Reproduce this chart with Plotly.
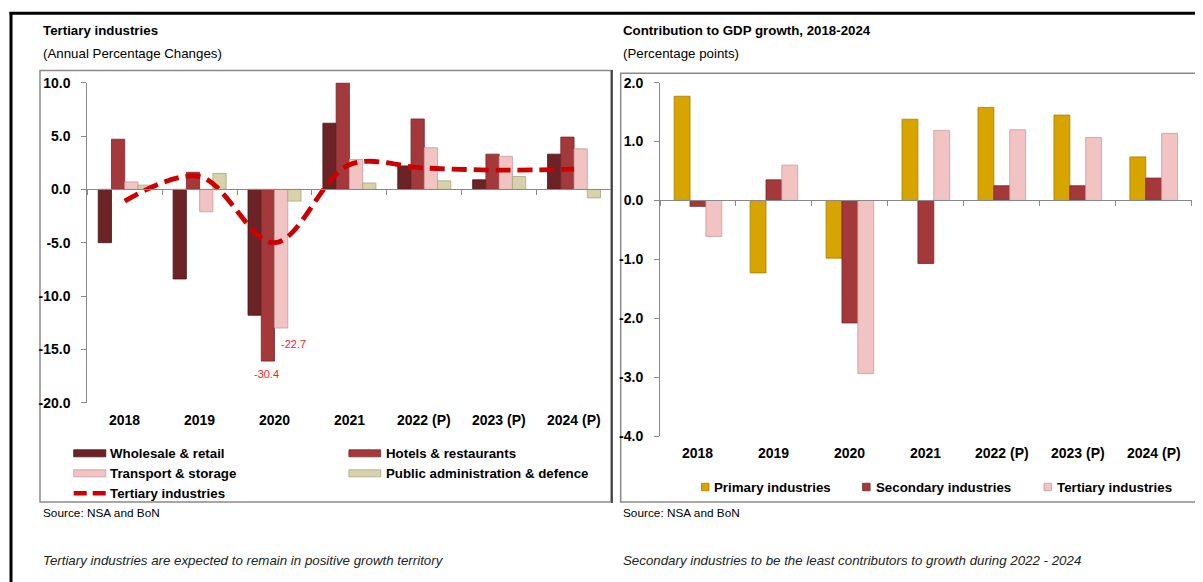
import plotly.graph_objects as go

# ---------------- data ----------------
years = ["2018", "2019", "2020", "2021", "2022 (P)", "2023 (P)", "2024 (P)"]

# Left chart: Tertiary industries, annual percentage changes (bar heights as drawn)
wholesale_retail = [-5.0, -8.4, -11.8, 6.2, 2.2, 0.9, 3.3]
hotels_restaurants = [4.7, 1.6, -16.1, 10.0, 6.6, 3.3, 4.9]
transport_storage = [0.7, -2.1, -13.0, 2.8, 3.9, 3.1, 3.8]
public_admin_defence = [0.4, 1.5, -1.1, 0.6, 0.8, 1.2, -0.8]
tertiary_growth = [-1.1, 1.2, -5.0, 2.3, 2.0, 1.8, 1.9]
hotels_labels = ["", "", "-30.4", "", "", "", ""]
transport_labels = ["", "", "-22.7", "", "", "", ""]
left_names = ["Wholesale & retail", "Hotels & restaurants",
              "Transport & storage", "Public administration & defence"]
line_name = "Tertiary industries"
left_ticks = [10, 5, 0, -5, -10, -15, -20]

# Right chart: contribution to GDP growth, percentage points
primary_ind = [1.77, -1.23, -0.98, 1.38, 1.58, 1.45, 0.74]
secondary_ind = [-0.10, 0.35, -2.08, -1.07, 0.25, 0.25, 0.38]
tertiary_ind = [-0.61, 0.60, -2.94, 1.19, 1.20, 1.07, 1.14]
right_names = ["Primary industries", "Secondary industries", "Tertiary industries"]
right_ticks = [2, 1, 0, -1, -2, -3, -4]

# ---------------- helpers ----------------
PAGE = 8                      # browser body margin
FW, FH = 1203 - PAGE, 582 - PAGE


def X(px):
    return (px - PAGE) / FW


def Y(py):
    return 1 - (py - PAGE) / FH


FONT = "Liberation Sans, Arial, sans-serif"
GRAY = "#8a8a8a"

left_colors = ["#6B2326", "#A3393B", "#F2C3C3", "#D8D2AC"]
left_edges = ["#4a1517", "#7a2628", "#c99a9a", "#aaa57f"]
right_colors = ["#D8A400", "#A3393B", "#F2C3C3"]
right_edges = ["#a57d00", "#7a2628", "#c99a9a"]

# axis geometry (reference pixels)
L_x0, L_x1, L_ytop, L_ybot = 87.3, 611.5, 82.7, 402.7
R_x0, R_x1, R_ytop, R_ybot = 660.0, 1191.7, 82.7, 436.0
L_range = [-20, 10]
R_range = [-4, 2]


def zero_pos(ytop, ybot, rng):
    d0, d1 = Y(ybot), Y(ytop)
    return d0 + (0 - rng[0]) / (rng[1] - rng[0]) * (d1 - d0)


fig = go.Figure()

# ---------------- left chart ----------------
left_values = [wholesale_retail, hotels_restaurants, transport_storage, public_admin_defence]
wL = 0.177
nL = len(left_values)
for i, (name, vals) in enumerate(zip(left_names, left_values)):
    fig.add_trace(go.Bar(
        x=years, y=vals, name=name, width=wL, offset=-nL * wL / 2 + i * wL,
        marker=dict(color=left_colors[i], line=dict(color=left_edges[i], width=0.8)),
        xaxis="x", yaxis="y", showlegend=False))

fig.add_trace(go.Scatter(
    x=years, y=tertiary_growth, name=line_name, mode="lines",
    line=dict(color="#CC0000", width=4.8, dash="15px,7px", shape="spline", smoothing=1),
    xaxis="x", yaxis="y", showlegend=False))

# ---------------- right chart ----------------
right_values = [primary_ind, secondary_ind, tertiary_ind]
wR = 0.209
nR = len(right_values)
for i, (name, vals) in enumerate(zip(right_names, right_values)):
    fig.add_trace(go.Bar(
        x=years, y=vals, name=name, width=wR, offset=-nR * wR / 2 + i * wR,
        marker=dict(color=right_colors[i], line=dict(color=right_edges[i], width=0.8)),
        xaxis="x2", yaxis="y2", showlegend=False))

axis_common = dict(showgrid=False, zeroline=False, showline=True, linecolor=GRAY,
                   linewidth=1, ticks="outside", ticklen=5, tickcolor=GRAY)
yfont = dict(family=FONT, size=14, color="black", weight="bold")

fig.update_layout(
    width=FW, height=FH, margin=dict(l=0, r=0, t=0, b=0, pad=0, autoexpand=False),
    paper_bgcolor="white", plot_bgcolor="rgba(0,0,0,0)",
    barmode="overlay", font=dict(family=FONT, color="black"),
    xaxis=dict(domain=[X(L_x0), X(L_x1)], type="category", categoryorder="array",
               categoryarray=years, range=[-0.5, len(years) - 0.5],
               anchor="free", position=zero_pos(L_ytop, L_ybot, L_range),
               tickson="boundaries", showticklabels=False, **axis_common),
    yaxis=dict(domain=[Y(L_ybot), Y(L_ytop)], range=L_range, anchor="x",
               tickvals=left_ticks, ticktext=[f"{v:.1f}" for v in left_ticks],
               tickfont=yfont, ticklabelstandoff=8, **axis_common),
    xaxis2=dict(domain=[X(R_x0), X(R_x1)], type="category", categoryorder="array",
                categoryarray=years, range=[-0.5, len(years) - 0.5],
                anchor="free", position=zero_pos(R_ytop, R_ybot, R_range),
                tickson="boundaries", showticklabels=False, **axis_common),
    yaxis2=dict(domain=[Y(R_ybot), Y(R_ytop)], range=R_range, anchor="x2",
                tickvals=right_ticks, ticktext=[f"{v:.1f}" for v in right_ticks],
                tickfont=yfont, ticklabelstandoff=8, **axis_common),
)

shapes = []
annotations = []

# frames
shapes.append(dict(type="rect", xref="paper", yref="paper", x0=X(40), x1=X(611),
                   y0=Y(502), y1=Y(70.5), line=dict(color=GRAY, width=1.5), layer="below"))
shapes.append(dict(type="rect", xref="paper", yref="paper", x0=X(620.7), x1=X(1215),
                   y0=Y(502), y1=Y(73.3), line=dict(color=GRAY, width=1.5), layer="below"))
# black page rules
shapes.append(dict(type="line", xref="paper", yref="paper", x0=X(9.5), x1=X(1215),
                   y0=Y(13.3), y1=Y(13.3), line=dict(color="black", width=3)))
shapes.append(dict(type="line", xref="paper", yref="paper", x0=X(11), x1=X(11),
                   y0=Y(12), y1=Y(600), line=dict(color="black", width=3)))
shapes.append(dict(type="line", xref="paper", yref="paper", x0=X(612), x1=X(612),
                   y0=Y(70), y1=Y(503), line=dict(color="#222222", width=1.5)))


def text(x, y, s, size=13.3, bold=False, italic=False, color="black", anchor="left"):
    annotations.append(dict(
        xref="paper", yref="paper", x=X(x), y=Y(y), text=s, showarrow=False,
        xanchor=anchor, yanchor="middle",
        font=dict(family=FONT, size=size, color=color,
                  weight="bold" if bold else "normal",
                  style="italic" if italic else "normal")))


# titles
text(41, 30.5, "Tertiary industries", bold=True)
text(41, 53, "(Annual Percentage Changes)")
text(621, 30.5, "Contribution to GDP growth, 2018-2024", bold=True)
text(621, 53, "(Percentage points)")
text(41, 513, "Source: NSA and BoN", size=11.8)
text(621, 513, "Source: NSA and BoN", size=11.8)
text(41, 560.5, "Tertiary industries are expected to remain in positive growth territory",
     italic=True, color="#222222")
text(621, 560.5, "Secondary industries to be the least contributors to growth during 2022 - 2024",
     italic=True, color="#222222")

# category labels along the bottom of each plot (category index positions)
cat_font = dict(family=FONT, size=14, color="black", weight="bold")
for k, yr in enumerate(years):
    annotations.append(dict(xref="x", yref="paper", x=k, y=Y(420), text=yr,
                            showarrow=False, xanchor="center", yanchor="middle",
                            font=cat_font))
    annotations.append(dict(xref="x2", yref="paper", x=k, y=Y(453.3), text=yr,
                            showarrow=False, xanchor="center", yanchor="middle",
                            font=cat_font))

# red data labels for truncated 2020 bars
lab_font = dict(family=FONT, size=11, color="#FF2020")
for k, (v, lab) in enumerate(zip(hotels_restaurants, hotels_labels)):
    if lab:
        annotations.append(dict(xref="x", yref="y", x=k, y=v, text=lab, showarrow=False,
                                xanchor="center", yanchor="middle", xshift=-8, yshift=-13,
                                font=lab_font))
for k, (v, lab) in enumerate(zip(transport_storage, transport_labels)):
    if lab:
        annotations.append(dict(xref="x", yref="y", x=k, y=v, text=lab, showarrow=False,
                                xanchor="center", yanchor="middle", xshift=19, yshift=-15.5,
                                font=lab_font))

# left legend (built from series names/colours)
leg_rows = [453.3, 473.3, 493.3]
leg_cols = [(73.7, 105.8, 108.3), (348.9, 380.7, 383.9)]
for i, name in enumerate(left_names):
    r, c = divmod(i, 2)
    sx0, sx1, tx = leg_cols[c]
    yy = leg_rows[r]
    shapes.append(dict(type="rect", xref="paper", yref="paper", x0=X(sx0), x1=X(sx1),
                       y0=Y(yy + 3.5), y1=Y(yy - 3.5), fillcolor=left_colors[i],
                       line=dict(color=left_edges[i], width=0.8)))
    text(tx, yy, name, bold=True)
yy = leg_rows[2]
shapes.append(dict(type="line", xref="paper", yref="paper", x0=X(73.7), x1=X(105.8),
                   y0=Y(yy), y1=Y(yy), line=dict(color="#CC0000", width=4.5, dash="13px,6px")))
text(108.3, yy, line_name, bold=True)

# right legend
r_leg = [(701.5, 711.5), (862.6, 874.3), (1044.0, 1055.0)]
for i, name in enumerate(right_names):
    sx, tx = r_leg[i]
    shapes.append(dict(type="rect", xref="paper", yref="paper", x0=X(sx), x1=X(sx + 7.5),
                       y0=Y(487 + 3.75), y1=Y(487 - 3.75), fillcolor=right_colors[i],
                       line=dict(color=right_edges[i], width=0.8)))
    text(tx, 487, name, bold=True)

fig.update_layout(shapes=shapes, annotations=annotations)

fig.write_html("out.html", config={"displayModeBar": False})
